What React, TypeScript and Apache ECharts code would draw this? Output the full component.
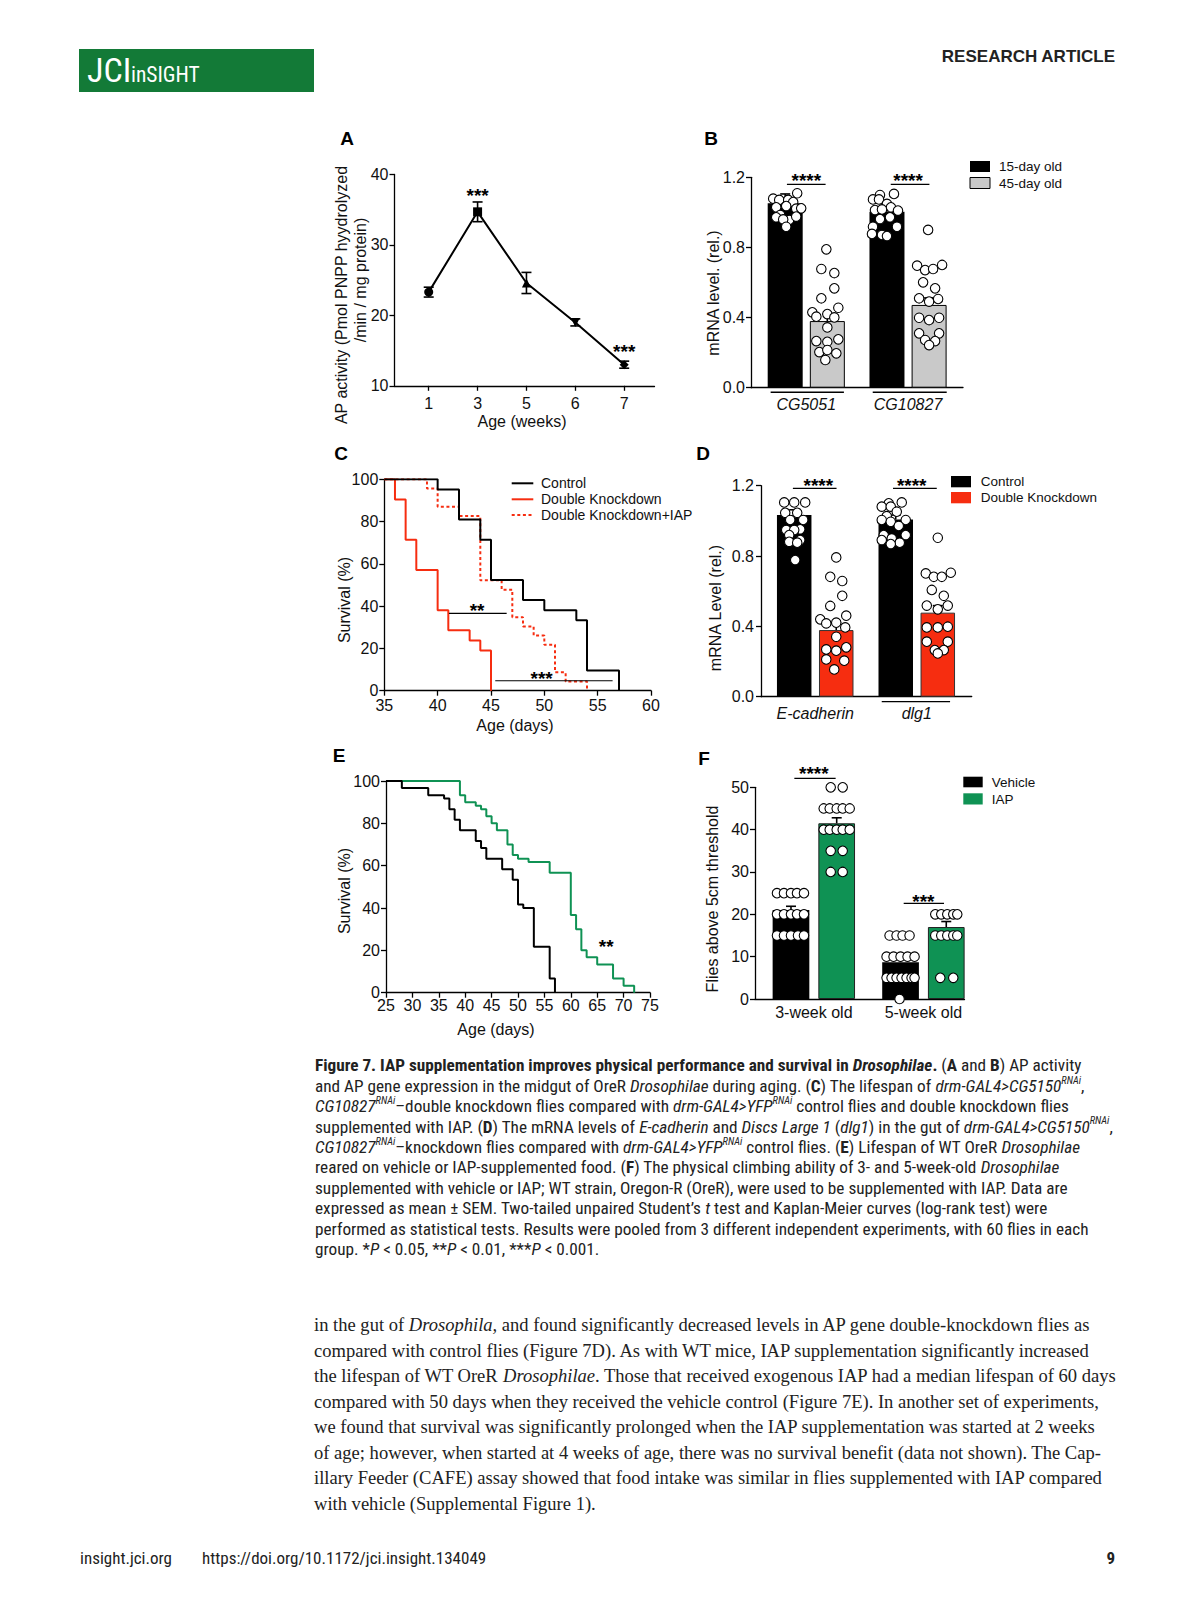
import React, { useEffect, useRef } from 'react';
import * as echarts from 'echarts';

// ================= DATA =================
// Panel A – AP activity vs age
const ageWeeks = ['1', '3', '5', '6', '7'];
const apMean = [23.3, 34.7, 24.6, 19.0, 13.0];
const apSem = [0.7, 1.4, 1.5, 0.5, 0.5];
const apStarIdx = [1, 4];
const apStarValue = [37.6, 15.4];
const apStarLabel = ['***', '***'];

// Panel B – mRNA level, 15-day vs 45-day
const bGenes = ['CG5051', 'CG10827'];
const bGroups = ['15-day old', '45-day old'];
const bMean15 = [1.052, 1.004];
const bSem15 = [0.053, 0.03];
const bMean45 = [0.38, 0.472];
const bSem45 = [0.04, 0.04];
const bDots15 = [
  [1.109, 1.078, 1.071, 1.071, 1.059, 1.029, 1.036, 1.021, 1.023, 0.985, 0.957, 0.976, 0.972, 0.96, 0.918],
  [1.099, 1.105, 1.074, 1.074, 1.048, 1.029, 1.01, 1.013, 1.017, 0.972, 0.962, 0.918, 0.918, 0.871, 0.865, 0.877],
];
const bJit15 = [
  [12, -12, -6, 3, 8, -9, 1, 11, 16, -5, 4, 11, -9, -2, 1],
  [-7, 7, -14, -8, 0, 4, 11, -12, -5, 3, -7, 10, -14, -5, 0, -15],
];
const bDots45 = [
  [0.789, 0.677, 0.654, 0.567, 0.51, 0.43, 0.456, 0.42, 0.405, 0.401, 0.344, 0.266, 0.262, 0.276, 0.203, 0.215, 0.196, 0.158],
  [0.9, 0.696, 0.671, 0.677, 0.7, 0.601, 0.567, 0.51, 0.491, 0.506, 0.399, 0.386, 0.399, 0.31, 0.31, 0.272, 0.266, 0.243],
];
const bJit45 = [
  [-1, -6, 7, 7, -6, -15, 11, 0, -11, 7, 0, -11, 0, 11, -8, 0, 9, -2],
  [-1, -12, -4, 4, 13, -6, 6, -10, 0, 9, -10, 0, 10, -10, 10, -4, 6, 0],
];
const bStars = ['****', '****'];

// Panel C – survival, knockdown
const cControlDay = [35, 40, 42, 44, 45, 48, 50, 53, 54, 57];
const cControlSurv = [100, 95.2, 81.0, 71.4, 52.4, 42.9, 38.1, 33.3, 9.5, 0];
const cDkDay = [35, 36, 37, 38, 40, 41, 43, 44, 45];
const cDkSurv = [100, 90.5, 71.4, 57.1, 38.1, 28.6, 23.8, 19.0, 0];
const cIapDay = [35, 39, 40, 42, 44, 46, 47, 48, 49, 50, 51, 52, 54];
const cIapSurv = [100, 95.7, 87.0, 82.6, 52.2, 47.8, 34.8, 30.4, 26.1, 21.7, 8.7, 4.3, 0];
const cSeriesNames = ['Control', 'Double Knockdown', 'Double Knockdown+IAP'];
const cSigLines = [[41.06, 46.47, 36.6], [45.4, 56.4, 4.7]];
const cSigText = [{ x: 43.7, y: 39.7, t: '**' }, { x: 49.75, y: 7.7, t: '***' }];

// Panel D – mRNA level, control vs double knockdown
const dGenes = ['E-cadherin', 'dlg1'];
const dGroups = ['Control', 'Double Knockdown'];
const dMeanCtl = [1.033, 1.008];
const dSemCtl = [0.03, 0.025];
const dMeanDk = [0.379, 0.478];
const dSemDk = [0.04, 0.04];
const dDotsCtl = [
  [1.105, 1.105, 1.105, 1.046, 1.046, 1.005, 1.005, 0.952, 0.948, 0.948, 0.919, 0.891, 0.881, 0.876, 0.777],
  [1.1, 1.105, 1.081, 1.081, 1.052, 1.027, 1.005, 1.005, 0.995, 0.971, 0.919, 0.919, 0.9, 0.876, 0.868, 0.891],
];
const dJitCtl = [
  [-10, 0, 11, -9, 3, 9, -4, 6, -8, 0, -5, 6, -5, 3, 1],
  [-7, 6, -14, -5, 1, -9, 10, -14, -5, 3, 10, -12, -4, 4, -5, -14],
];
const dDotsDk = [
  [0.792, 0.682, 0.658, 0.574, 0.516, 0.44, 0.461, 0.421, 0.417, 0.394, 0.341, 0.269, 0.262, 0.281, 0.212, 0.205, 0.155],
  [0.904, 0.701, 0.682, 0.682, 0.705, 0.607, 0.574, 0.518, 0.497, 0.518, 0.394, 0.394, 0.398, 0.313, 0.313, 0.265, 0.265, 0.246],
];
const dJitDk = [
  [0, -6, 6, 6, -6, -16, 10, 0, -10, 9, 0, -10, 0, 10, -10, 8, -2],
  [0, -12, -4, 4, 13, -6, 6, -11, 0, 10, -11, 0, 10, -11, 10, -3, 6, 0],
];
const dStars = ['****', '****'];

// Panel E – survival, vehicle vs IAP
const eVehDay = [25, 28, 33, 36, 37, 38, 39, 42, 43, 44, 47, 49, 50, 51, 53, 56, 57];
const eVehSurv = [100, 96.7, 93.3, 91.7, 86.7, 81.7, 76.7, 71.7, 68.3, 63.3, 58.3, 53.3, 41.7, 40.0, 21.7, 6.7, 0];
const eIapDay = [25, 39, 40, 42, 43, 44, 45, 46, 48, 49, 50, 52, 56, 60, 61, 62, 63, 65, 68, 70, 72];
const eIapSurv = [100, 93.3, 90.0, 88.3, 86.7, 83.3, 80.0, 76.7, 70.0, 65.0, 63.3, 61.7, 56.7, 36.7, 30.0, 20.0, 16.7, 13.3, 6.7, 3.3, 0];
const eSigText = [{ x: 66.7, y: 23.8, t: '**' }];

// Panel F – climbing
const fAges = ['3-week old', '5-week old'];
const fGroups = ['Vehicle', 'IAP'];
const fMeanVeh = [21.0, 8.7];
const fSemVeh = [0.9, 1.0];
const fMeanIap = [41.5, 17.0];
const fSemIap = [1.3, 1.3];
const fDotsVeh = [
  [25, 25, 25, 25, 25, 20, 20, 20, 20, 20, 15, 15, 15, 15, 15],
  [15, 15, 15, 15, 10, 10, 10, 10, 10, 5, 5, 5, 5, 5, 5, 5, 0],
];
const fJitVeh = [
  [-14, -7, 0, 6, 13, -14, -7, 0, 6, 13, -14, -7, 0, 7, 13],
  [-11, -4, 2, 9, -14, -7, 0, 7, 14, -14, -9, -4, 1, 6, 11, 14, -1],
];
const fDotsIap = [
  [50, 50, 45, 45, 45, 45, 45, 40, 40, 40, 40, 40, 35, 35, 30, 30],
  [20, 20, 20, 20, 20, 15, 15, 15, 15, 15, 5, 5],
];
const fJitIap = [
  [-6, 6, -13, -7, 0, 6, 13, -13, -7, 0, 6, 13, -6, 6, -6, 6],
  [-11, -5, 1, 7, 11, -11, -5, 1, 7, 11, -6, 7],
];
const fStars = ['****', '***'];

// Page text
const captionLines: string[][][] = [
  [['b', 'Figure 7. IAP supplementation improves physical performance and survival in '], ['bi', 'Drosophilae'], ['b', '.'], ['n', ' ('], ['b', 'A'], ['n', ' and '], ['b', 'B'], ['n', ') AP activity']],
  [['n', 'and AP gene expression in the midgut of OreR '], ['i', 'Drosophilae'], ['n', ' during aging. ('], ['b', 'C'], ['n', ') The lifespan of '], ['i', 'drm-GAL4>CG5150'], ['s', 'RNAi'], ['n', ',']],
  [['i', 'CG10827'], ['s', 'RNAi'], ['n', '–double knockdown flies compared with '], ['i', 'drm-GAL4>YFP'], ['s', 'RNAi'], ['n', ' control flies and double knockdown flies']],
  [['n', 'supplemented with IAP. ('], ['b', 'D'], ['n', ') The mRNA levels of '], ['i', 'E-cadherin'], ['n', ' and '], ['i', 'Discs Large 1'], ['n', ' ('], ['i', 'dlg1'], ['n', ') in the gut of '], ['i', 'drm-GAL4>CG5150'], ['s', 'RNAi'], ['n', ',']],
  [['i', 'CG10827'], ['s', 'RNAi'], ['n', '–knockdown flies compared with '], ['i', 'drm-GAL4>YFP'], ['s', 'RNAi'], ['n', ' control flies. ('], ['b', 'E'], ['n', ') Lifespan of WT OreR '], ['i', 'Drosophilae']],
  [['n', 'reared on vehicle or IAP-supplemented food. ('], ['b', 'F'], ['n', ') The physical climbing ability of 3- and 5-week-old '], ['i', 'Drosophilae']],
  [['n', 'supplemented with vehicle or IAP; WT strain, Oregon-R (OreR), were used to be supplemented with IAP. Data are']],
  [['n', 'expressed as mean ± SEM. Two-tailed unpaired Student’s '], ['i', 't'], ['n', ' test and Kaplan-Meier curves (log-rank test) were']],
  [['n', 'performed as statistical tests. Results were pooled from 3 different independent experiments, with 60 flies in each']],
  [['n', 'group. *'], ['i', 'P'], ['n', ' < 0.05, **'], ['i', 'P'], ['n', ' < 0.01, ***'], ['i', 'P'], ['n', ' < 0.001.']],
];
const bodyLines: string[][][] = [
  [['n', 'in the gut of '], ['i', 'Drosophila,'], ['n', ' and found significantly decreased levels in AP gene double-knockdown flies as']],
  [['n', 'compared with control flies (Figure 7D). As with WT mice, IAP supplementation significantly increased']],
  [['n', 'the lifespan of WT OreR '], ['i', 'Drosophilae'], ['n', '. Those that received exogenous IAP had a median lifespan of 60 days']],
  [['n', 'compared with 50 days when they received the vehicle control (Figure 7E). In another set of experiments,']],
  [['n', 'we found that survival was significantly prolonged when the IAP supplementation was started at 2 weeks']],
  [['n', 'of age; however, when started at 4 weeks of age, there was no survival benefit (data not shown). The Cap-']],
  [['n', 'illary Feeder (CAFE) assay showed that food intake was similar in flies supplemented with IAP compared']],
  [['n', 'with vehicle (Supplemental Figure 1).']],
];

// ================= STYLE / LAYOUT =================
const FONT = '"Liberation Sans", Arial, Helvetica, sans-serif';
const INK = '#111';
const RED = '#f62d10';
const GREEN = '#0f9254';
const GRAY = '#c9c9c9';

const gA = { left: 394.5, top: 174.5, width: 260, height: 211.3 };
const gB = { left: 751, top: 177.3, width: 212, height: 210.4, xMin: -0.543, xMax: 1.54, off: 0.207, barWidth: 35 };
const gC = { left: 384.3, top: 479.3, width: 266.7, height: 211.4 };
const gD = { left: 761, top: 485.7, width: 210.7, height: 211, xMin: -0.534, xMax: 1.541, off: 0.207, barWidth: 34.5 };
const gE = { left: 386, top: 781, width: 264, height: 211.7 };
const gF = { left: 755, top: 787.3, width: 209.5, height: 211.7, xMin: -0.537, xMax: 1.375, off: 0.2086, barWidth: 36.7 };

const axisLineStyle = { color: '#000', width: 1.3 };

function measureCtx() {
  return document.createElement('canvas').getContext('2d') as CanvasRenderingContext2D;
}
function pickFont(cands: string[]) {
  const c = measureCtx();
  const probe = 'abcdefghijklmnopqrstuvwxyzABCDEFGHIJ0123456789';
  c.font = '40px monospace';
  const base = c.measureText(probe).width;
  for (const f of cands) {
    c.font = `40px "${f}", monospace`;
    if (Math.abs(c.measureText(probe).width - base) > 0.5) return f;
  }
  return cands[cands.length - 1];
}
function textW(font: string, s: string) {
  const c = measureCtx();
  c.font = font;
  return c.measureText(s).width;
}
const nb = (s: string) => s.replace(/^ +/, (m) => '\u00a0'.repeat(m.length)).replace(/ +$/, (m) => '\u00a0'.repeat(m.length));
const richText = (segs: string[][]) => segs.map(([k, t]) => `{${k}|${nb(t)}}`).join('');
const plain = (segs: string[][]) => segs.map((s) => s[1]).join('');

function yAxis(gi: number, min: number, max: number, interval: number, fontSize: number, margin: number, fmt?: (v: number) => string) {
  return {
    gridIndex: gi, type: 'value', min, max, interval,
    axisLine: { show: true, onZero: false, lineStyle: axisLineStyle },
    axisTick: { show: true, length: 5, lineStyle: axisLineStyle },
    axisLabel: { color: INK, fontSize, fontFamily: FONT, margin, formatter: fmt },
    splitLine: { show: false },
  };
}
function xValAxis(gi: number, min: number, max: number, interval: number, margin: number) {
  return {
    gridIndex: gi, type: 'value', min, max, interval,
    axisLine: { show: true, onZero: false, lineStyle: axisLineStyle },
    axisTick: { show: true, length: 5, lineStyle: axisLineStyle },
    axisLabel: { color: INK, fontSize: 16, fontFamily: FONT, margin },
    splitLine: { show: false },
  };
}
function xBarAxis(gi: number, geo: any, names: string[], italic: boolean, margin: number) {
  return {
    gridIndex: gi, type: 'value', min: geo.xMin, max: geo.xMax,
    axisLine: { show: true, onZero: false, lineStyle: axisLineStyle },
    axisTick: { show: false },
    axisLabel: {
      color: INK, fontSize: 16, fontFamily: FONT, margin, fontStyle: italic ? 'italic' : 'normal',
      customValues: names.map((_, i) => i),
      formatter: (v: number) => names[Math.round(v)] ?? '',
    },
    splitLine: { show: false },
  };
}

function errSeries(gi: number, pts: number[][], capW: number, both: boolean, z = 3) {
  return {
    type: 'custom', xAxisIndex: gi, yAxisIndex: gi, z, silent: true, data: pts,
    renderItem: (_p: any, api: any) => {
      const x = api.value(0);
      const pLo = api.coord([x, api.value(1)]);
      const pHi = api.coord([x, api.value(2)]);
      const h = capW / 2;
      const st = { stroke: '#000', lineWidth: 1.6 };
      const ch: any[] = [
        { type: 'line', shape: { x1: pLo[0], y1: pLo[1], x2: pHi[0], y2: pHi[1] }, style: st },
        { type: 'line', shape: { x1: pHi[0] - h, y1: pHi[1], x2: pHi[0] + h, y2: pHi[1] }, style: st },
      ];
      if (both) ch.push({ type: 'line', shape: { x1: pLo[0] - h, y1: pLo[1], x2: pLo[0] + h, y2: pLo[1] }, style: st });
      return { type: 'group', children: ch };
    },
  };
}
function hLines(gi: number, lines: number[][], width = 1.3) {
  return {
    type: 'custom', xAxisIndex: gi, yAxisIndex: gi, z: 5, silent: true, data: lines,
    renderItem: (_p: any, api: any) => {
      const p1 = api.coord([api.value(0), api.value(2)]);
      const p2 = api.coord([api.value(1), api.value(2)]);
      return { type: 'line', shape: { x1: p1[0], y1: p1[1], x2: p2[0], y2: p2[1] }, style: { stroke: '#000', lineWidth: width } };
    },
  };
}
function texts(gi: number, items: { x: number; y: number; t: string }[], fontSize = 19) {
  return {
    type: 'custom', xAxisIndex: gi, yAxisIndex: gi, z: 6, silent: true,
    data: items.map((it) => [it.x, it.y]),
    renderItem: (p: any, api: any) => {
      const c = api.coord([api.value(0), api.value(1)]);
      return {
        type: 'text', x: c[0], y: c[1] + 4,
        style: {
          text: items[p.dataIndex].t, fill: '#000', fontSize, fontWeight: 'bold', fontFamily: FONT,
          align: 'center', verticalAlign: 'middle', textAlign: 'center', textVerticalAlign: 'middle',
        },
      };
    },
  };
}

type BarSet = { mean: number[]; sem: number[]; dots: number[][]; jit: number[][]; color: string; border?: string };
function barPanel(gi: number, geo: any, sets: BarSet[]) {
  const ppu = geo.width / (geo.xMax - geo.xMin);
  const barData: any[] = [];
  const err: number[][] = [];
  const dots: number[][] = [];
  sets.forEach((s, si) => {
    const dx = (si === 0 ? -1 : 1) * geo.off;
    s.mean.forEach((m, g) => {
      barData.push({
        value: [g + dx, m],
        itemStyle: { color: s.color, borderColor: s.border || s.color, borderWidth: s.border ? 1 : 0 },
      });
      err.push([g + dx, m, m + s.sem[g]]);
      s.dots[g].forEach((v, k) => dots.push([g + dx + s.jit[g][k] / ppu, v]));
    });
  });
  return [
    { type: 'bar', xAxisIndex: gi, yAxisIndex: gi, barWidth: geo.barWidth, data: barData, z: 2 },
    errSeries(gi, err, 10, false, 3),
    {
      type: 'scatter', xAxisIndex: gi, yAxisIndex: gi, z: 4, clip: false, symbol: 'circle', symbolSize: 9.5,
      itemStyle: { color: '#fff', borderColor: '#000', borderWidth: 1.1, opacity: 1 }, data: dots, silent: true,
    },
  ];
}
function starBars(gi: number, labels: string[], lineY: number[], rel: number[][], starY: number[], starDx: number[]) {
  return [
    hLines(gi, labels.map((_, g) => [g + rel[g][0], g + rel[g][1], lineY[g]])),
    texts(gi, labels.map((t, g) => ({ x: g + starDx[g], y: starY[g], t }))),
  ];
}
function kmSeries(gi: number, days: number[], surv: number[], color: string, dashed = false, z = 3) {
  return {
    type: 'line', xAxisIndex: gi, yAxisIndex: gi, step: 'end', symbol: 'none', z, silent: true,
    lineStyle: { color, width: 2, type: dashed ? [3, 2.6] : 'solid' },
    data: days.map((d, i) => [d, surv[i]]),
  };
}

function txt(text: string, x: number, y: number, o: any = {}) {
  return {
    type: 'text', x, y, rotation: o.rotation || 0, silent: true,
    style: {
      text, fill: o.fill || INK, fontSize: o.fontSize || 16, fontFamily: o.fontFamily || FONT,
      fontWeight: o.fontWeight || 'normal', fontStyle: o.fontStyle || 'normal',
      align: o.align || 'center', verticalAlign: o.verticalAlign || 'middle',
      textAlign: o.align || 'center', textVerticalAlign: o.verticalAlign || 'middle',
      rich: o.rich,
    },
  };
}
function rect(x: number, y: number, w: number, h: number, fill: string, stroke?: string) {
  return { type: 'rect', shape: { x, y, width: w, height: h }, style: { fill, stroke: stroke || fill, lineWidth: stroke ? 1 : 0 }, silent: true };
}
function seg(x1: number, x2: number, y: number, stroke: string, dashed = false) {
  return { type: 'line', shape: { x1, y1: y, x2, y2: y }, style: { stroke, lineWidth: 2, lineDash: dashed ? [3, 2.6] : null }, silent: true };
}

function buildOption() {
  // fonts for the page text
  const capFam = pickFont(['Liberation Sans Narrow', 'Roboto Condensed', 'DejaVu Sans Condensed', 'Roboto']);
  const capLine7 = plain(captionLines[6]);
  let cs = (20 * 753) / textW(`20px "${capFam}"`, capLine7);
  cs = Math.max(11, Math.min(18, cs));
  const bodyFam = 'Liberation Serif';
  let maxW = 0;
  bodyLines.slice(0, 7).forEach((l) => { maxW = Math.max(maxW, textW(`20px "${bodyFam}"`, plain(l))); });
  let bs = (20 * 802) / maxW;
  bs = Math.max(15, Math.min(19, bs));
  const doi = 'https://doi.org/10.1172/jci.insight.134049';
  let fs = (20 * 295) / textW(`20px "${capFam}"`, doi);
  fs = Math.max(11, Math.min(17, fs));

  const cf = `"${capFam}", Roboto, sans-serif`;
  const capBase = { fontFamily: cf, fontSize: cs, fill: '#222', lineHeight: cs * 1.25 };
  const capRich = {
    n: { ...capBase },
    b: { ...capBase, fontWeight: 'bold' },
    i: { ...capBase, fontStyle: 'italic' },
    bi: { ...capBase, fontWeight: 'bold', fontStyle: 'italic' },
    s: { ...capBase, fontSize: cs * 0.6, fontStyle: 'italic', verticalAlign: 'top' },
  };
  const bf = `"${bodyFam}", "Times New Roman", serif`;
  const bodyRich = {
    n: { fontFamily: bf, fontSize: bs, fill: '#222' },
    i: { fontFamily: bf, fontSize: bs, fill: '#222', fontStyle: 'italic' },
  };

  const graphics: any[] = [
    // header
    rect(79, 49, 235, 43, '#137a37'),
    txt('JCI', 87, 86.6, { fill: '#fff', fontSize: 34, fontFamily: cf, align: 'left', verticalAlign: 'bottom' }),
    txt('inSIGHT', 131, 85.8, { fill: '#fff', fontSize: 21.5, fontFamily: cf, align: 'left', verticalAlign: 'bottom' }),
    txt('RESEARCH ARTICLE', 1115, 56, { fill: '#222', fontSize: 17, fontWeight: 'bold', align: 'right' }),
    // panel letters
    ...[['A', 347, 138], ['B', 711, 138], ['C', 341, 453], ['D', 703, 453], ['E', 339, 755], ['F', 704, 758]].map((p) =>
      txt(p[0] as string, p[1] as number, p[2] as number, { fontSize: 19, fontWeight: 'bold', fill: '#000' })),
    // y axis names
    txt('AP activity (Pmol PNPP hyydrolyzed', 341, 295, { rotation: Math.PI / 2 }),
    txt('/min / mg protein)', 360, 280, { rotation: Math.PI / 2 }),
    txt('mRNA level. (rel.)', 713.5, 293, { rotation: Math.PI / 2 }),
    txt('Survival (%)', 344, 600, { rotation: Math.PI / 2 }),
    txt('mRNA Level (rel.)', 715, 608, { rotation: Math.PI / 2 }),
    txt('Survival (%)', 344, 891, { rotation: Math.PI / 2 }),
    txt('Flies above 5cm threshold', 712, 899, { rotation: Math.PI / 2 }),
    // x axis names
    txt('Age (weeks)', 522, 421),
    txt('Age (days)', 515, 725),
    txt('Age (days)', 496, 1029),
    // legend B
    rect(970, 161, 20, 11, '#000'),
    rect(970, 177.5, 20, 11, GRAY, '#000'),
    txt(bGroups[0], 999, 166.5, { fontSize: 13.5, align: 'left' }),
    txt(bGroups[1], 999, 183, { fontSize: 13.5, align: 'left' }),
    // legend C
    seg(511.7, 533.3, 483.3, '#000'),
    seg(511.7, 533.3, 499.3, RED),
    seg(511.7, 533.3, 515, RED, true),
    txt(cSeriesNames[0], 541, 483.3, { fontSize: 14, align: 'left' }),
    txt(cSeriesNames[1], 541, 499.3, { fontSize: 14, align: 'left' }),
    txt(cSeriesNames[2], 541, 515, { fontSize: 14, align: 'left' }),
    // legend D
    rect(951, 476, 20, 11.3, '#000'),
    rect(951, 492, 20, 11.3, RED),
    txt(dGroups[0], 980.7, 481.7, { fontSize: 13.5, align: 'left' }),
    txt(dGroups[1], 980.7, 497.8, { fontSize: 13.5, align: 'left' }),
    // legend F
    rect(963.3, 776.7, 19.4, 10.6, '#000'),
    rect(963.3, 793.3, 19.4, 11.2, GREEN),
    txt(fGroups[0], 991.7, 782, { fontSize: 13.5, align: 'left' }),
    txt(fGroups[1], 991.7, 799, { fontSize: 13.5, align: 'left' }),
    // caption
    ...captionLines.map((l, i) => txt(richText(l), 315, 1065.4 + 20.41 * i, { align: 'left', fontFamily: cf, fontSize: cs, fill: '#222', rich: capRich })),
    // body
    ...bodyLines.map((l, i) => txt(richText(l), 314, 1324.6 + 25.5 * i, { align: 'left', fontFamily: bf, fontSize: bs, fill: '#222', rich: bodyRich })),
    // footer
    txt('insight.jci.org', 80, 1558, { align: 'left', fontFamily: cf, fontSize: fs, fill: '#222' }),
    txt(doi, 202, 1558, { align: 'left', fontFamily: cf, fontSize: fs, fill: '#222' }),
    txt('9', 1115, 1558, { align: 'right', fontFamily: cf, fontSize: fs, fill: '#222', fontWeight: 'bold' }),
  ];

  const grids = [gA, gB, gC, gD, gE, gF].map((g) => ({
    left: g.left, top: g.top, width: g.width, height: g.height, containLabel: false, outerBoundsMode: 'none',
  }));

  const xAxes = [
    {
      gridIndex: 0, type: 'value', min: 0.3, max: 5.62,
      axisLine: { show: true, onZero: false, lineStyle: axisLineStyle },
      axisTick: { show: true, length: 5, lineStyle: axisLineStyle, customValues: ageWeeks.map((_, i) => i + 1) },
      axisLabel: {
        color: INK, fontSize: 16, fontFamily: FONT, margin: 10,
        customValues: ageWeeks.map((_, i) => i + 1),
        formatter: (v: number) => ageWeeks[Math.round(v) - 1] ?? '',
      },
      splitLine: { show: false },
    },
    xBarAxis(1, gB, bGenes, true, 9),
    xValAxis(2, 35, 60, 5, 7),
    xBarAxis(3, gD, dGenes, true, 9),
    xValAxis(4, 25, 75, 5, 5),
    xBarAxis(5, gF, fAges, false, 5),
  ];
  const f1 = (v: number) => v.toFixed(1);
  const yAxes = [
    yAxis(0, 10, 40, 10, 16, 6),
    yAxis(1, 0, 1.2, 0.4, 16, 6, f1),
    yAxis(2, 0, 100, 20, 16, 6),
    yAxis(3, 0, 1.2, 0.4, 16, 7, f1),
    yAxis(4, 0, 100, 20, 16, 6),
    yAxis(5, 0, 50, 10, 16, 6),
  ];

  const apSymbols = ['circle', 'rect', 'triangle', 'triangle', 'diamond'];
  const series: any[] = [
    // A
    errSeries(0, apMean.map((m, i) => [i + 1, m - apSem[i], m + apSem[i]]), 10, true, 3),
    {
      type: 'line', xAxisIndex: 0, yAxisIndex: 0, z: 4, silent: true,
      lineStyle: { color: '#000', width: 2 }, itemStyle: { color: '#000' }, symbolSize: 9,
      data: apMean.map((m, i) => ({ value: [i + 1, m], symbol: apSymbols[i], symbolRotate: i === 3 ? 180 : 0 })),
    },
    texts(0, apStarIdx.map((k, j) => ({ x: k + 1, y: apStarValue[j], t: apStarLabel[j] }))),
    // B
    ...barPanel(1, gB, [
      { mean: bMean15, sem: bSem15, dots: bDots15, jit: bJit15, color: '#000' },
      { mean: bMean45, sem: bSem45, dots: bDots45, jit: bJit45, color: GRAY, border: '#000' },
    ]),
    ...starBars(1, bStars, [1.16, 1.16], [[-0.19, 0.19], [-0.17, 0.21]], [1.207, 1.207], [0, 0]),
    hLines(1, [[-0.35, 0.37, -0.026], [1 - 0.347, 1 + 0.38, -0.026]]),
    // C
    kmSeries(2, cIapDay, cIapSurv, RED, true, 2),
    kmSeries(2, cDkDay, cDkSurv, RED, false, 3),
    kmSeries(2, cControlDay, cControlSurv, '#000', false, 4),
    hLines(2, cSigLines, 1.2),
    texts(2, cSigText.map((s) => ({ x: s.x, y: s.y, t: s.t }))),
    // D
    ...barPanel(3, gD, [
      { mean: dMeanCtl, sem: dSemCtl, dots: dDotsCtl, jit: dJitCtl, color: '#000' },
      { mean: dMeanDk, sem: dSemDk, dots: dDotsDk, jit: dJitDk, color: RED, border: '#333' },
    ]),
    ...starBars(3, dStars, [1.185, 1.185], [[-0.22, 0.21], [-0.234, 0.197]], [1.223, 1.223], [0.03, -0.05]),
    hLines(3, [[1 - 0.345, 1 + 0.328, -0.028]]),
    // E
    kmSeries(4, eIapDay, eIapSurv, GREEN, false, 2),
    kmSeries(4, eVehDay, eVehSurv, '#000', false, 3),
    texts(4, eSigText.map((s) => ({ x: s.x, y: s.y, t: s.t }))),
    // F
    ...barPanel(5, gF, [
      { mean: fMeanVeh, sem: fSemVeh, dots: fDotsVeh, jit: fJitVeh, color: '#000' },
      { mean: fMeanIap, sem: fSemIap, dots: fDotsIap, jit: fJitIap, color: GREEN, border: '#222' },
    ]),
    ...starBars(5, fStars, [52.1, 22.6], [[-0.178, 0.199], [-0.18, 0.188]], [54.1, 23.9], [0, 0]),
  ];

  return {
    animation: false,
    backgroundColor: '#fff',
    textStyle: { fontFamily: FONT },
    grid: grids,
    xAxis: xAxes,
    yAxis: yAxes,
    series,
    graphic: { elements: graphics },
  };
}

export default function App() {
  const ref = useRef<HTMLDivElement>(null);
  useEffect(() => {
    const el = ref.current as HTMLDivElement;
    const chart = echarts.init(el, null, { renderer: 'svg', width: 1195, height: 1600 });
    chart.setOption(buildOption() as any);
    return () => chart.dispose();
  }, []);
  return (
    <div
      ref={ref}
      style={{ position: 'absolute', left: 0, top: 0, width: 1195, height: 1600, background: '#fff' }}
    />
  );
}
